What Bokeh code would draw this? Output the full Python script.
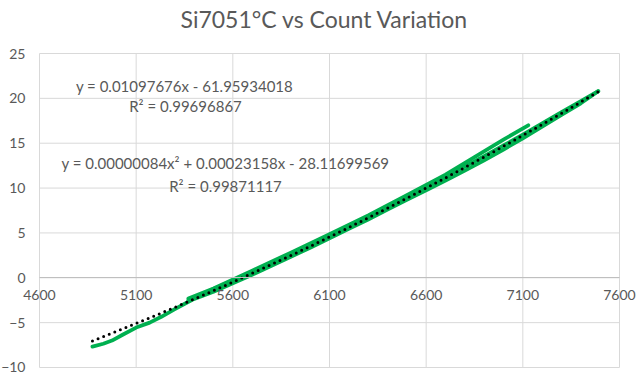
from bokeh.plotting import figure
from bokeh.models import FixedTicker, Label, Range1d
from bokeh.embed import file_html
from bokeh.resources import INLINE
import numpy as np

# ---- data ----
run1_x = [4874, 4930, 4975, 5030, 5100, 5170, 5230, 5300, 5390, 5500, 5600, 5700,
          5800, 5900, 6000, 6100, 6200, 6300, 6400, 6500, 6600, 6700, 6800, 6900,
          7000, 7100, 7200, 7300, 7400, 7490]
run1_y = [-7.68, -7.35, -7.0, -6.35, -5.55, -5.0, -4.35, -3.5, -2.45, -1.55, -0.6, 0.35,
          1.35, 2.35, 3.35, 4.4, 5.45, 6.5, 7.6, 8.7, 9.75, 10.85, 11.95, 13.1,
          14.3, 15.55, 16.85, 18.15, 19.45, 20.8]
run2_x = [7490, 7400, 7300, 7200, 7100, 7000, 6900, 6800, 6700, 6600, 6500, 6400,
          6300, 6200, 6100, 6000, 5900, 5800, 5700, 5600, 5500, 5370]
run2_y = [20.8, 19.7, 18.45, 17.2, 15.95, 14.75, 13.55, 12.4, 11.25, 10.15, 9.0, 7.9,
          6.8, 5.75, 4.7, 3.65, 2.65, 1.65, 0.65, -0.3, -1.25, -2.5]
run3_x = [5370, 5500, 5700, 5900, 6100, 6300, 6500, 6700, 6850, 7000, 7128]
run3_y = [-2.3, -1.2, 0.8, 2.8, 4.85, 6.95, 9.2, 11.5, 13.45, 15.4, 17.0]

# polynomial trendline coefficients (as printed on the chart)
poly_a, poly_b, poly_c = 0.00000084, 0.00023158, -28.11699569
trend_x0, trend_x1 = 4874, 7490

x_ticks = [4600, 5100, 5600, 6100, 6600, 7100, 7600]
y_ticks = [-10, -5, 0, 5, 10, 15, 20, 25]

title_text = "Si7051°C vs Count Variation"
eq1 = "y = 0.01097676x - 61.95934018"
r1 = "R² = 0.99696867"
eq2 = "y = 0.00000084x² + 0.00023158x - 28.11699569"
r2 = "R² = 0.99871117"

GREEN = "#00B050"
TXT = "#595959"
GRID = "#D9D9D9"
FONT = "Lato"

xmin, xmax = min(x_ticks), max(x_ticks)
ymin, ymax = min(y_ticks), max(y_ticks)

# the frame spans the whole canvas so that edge tick labels are not clipped;
# the plot area (4600..7600, -10..25) sits at pixels 39..619 x 53..367
p = figure(width=640, height=377, output_backend="svg", toolbar_location=None,
           x_range=Range1d(4398.3, 7708.6), y_range=Range1d(-11.115, 30.908),
           min_border=0)
p.outline_line_color = None
p.background_fill_color = "white"
p.border_fill_color = "white"
p.xgrid.visible = False
p.ygrid.visible = False

# gridlines limited to the plot area
p.segment(x0=x_ticks, y0=[ymin] * len(x_ticks), x1=x_ticks, y1=[ymax] * len(x_ticks),
          line_color=GRID, line_width=1)
p.segment(x0=[xmin] * len(y_ticks), y0=y_ticks, x1=[xmax] * len(y_ticks), y1=y_ticks,
          line_color=GRID, line_width=1)

for ax in (p.xaxis, p.yaxis):
    ax.major_tick_in = 0
    ax.major_tick_out = 0
    ax.minor_tick_in = 0
    ax.minor_tick_out = 0
    ax.major_label_text_font = FONT
    ax.major_label_text_font_size = "14px"
    ax.major_label_text_color = TXT

p.xaxis.ticker = FixedTicker(ticks=x_ticks)
p.xaxis.fixed_location = 0
p.xaxis.bounds = (xmin, xmax)
p.xaxis.axis_line_color = "#BFBFBF"
p.xaxis.major_label_standoff = 12

p.yaxis.ticker = FixedTicker(ticks=y_ticks)
p.yaxis.fixed_location = xmin
p.yaxis.bounds = (ymin, ymax)
p.yaxis.axis_line_color = None
p.yaxis.major_label_standoff = 14

for xs, ys in ((run1_x, run1_y), (run2_x, run2_y), (run3_x, run3_y)):
    p.line(xs, ys, line_color=GREEN, line_width=3.8, line_join="round", line_cap="round")

tx = np.linspace(trend_x0, trend_x1, 200)
ty = poly_a * tx ** 2 + poly_b * tx + poly_c
p.line(tx, ty, line_color="black", line_width=3, line_dash="0 6", line_cap="round")

p.add_layout(Label(x=6074, y=28.8, text=title_text, text_align="center",
                   text_baseline="middle", text_font=FONT, text_font_size="23px",
                   text_color=TXT))

for txt, x, y in ((eq1, 5350, 21.35), (r1, 5355, 19.2), (eq2, 5562, 12.8), (r2, 5562, 10.2)):
    p.add_layout(Label(x=x, y=y, text=txt, text_align="center", text_baseline="middle",
                       text_font=FONT, text_font_size="15px", text_color=TXT))

open("out.html", "w").write(file_html(p, INLINE))
